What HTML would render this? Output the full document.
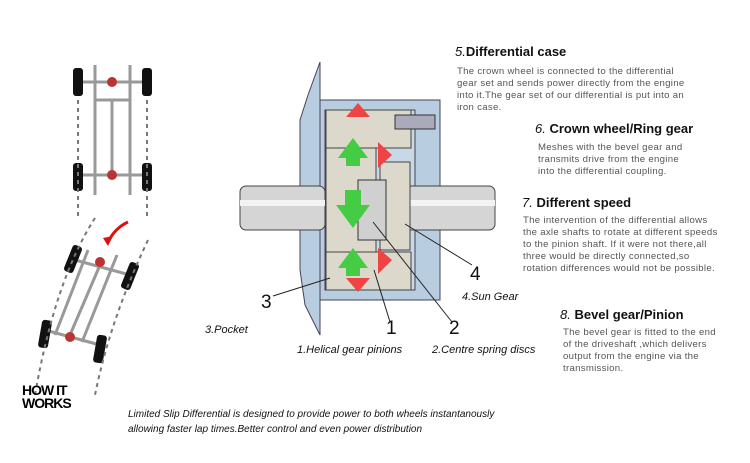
<!DOCTYPE html>
<html><head><style>
body{margin:0;width:750px;height:463px;background:#fff;position:relative;overflow:hidden;font-family:"Liberation Sans",sans-serif}
.h{position:absolute;font-weight:bold;font-size:13px;color:#111;white-space:nowrap}
.h i{font-weight:normal}
.b{position:absolute;font-size:9.6px;line-height:12px;color:#555;white-space:nowrap;letter-spacing:0.3px}
.l{position:absolute;font-style:italic;font-size:11px;color:#111;white-space:nowrap}
.n{position:absolute;font-size:19px;color:#111}
</style></head><body>
<svg width="750" height="463" style="position:absolute;left:0;top:0">
<!-- case -->
<path d="M320 62 L320 335 L305 305 L300 270 L300 120 L308 95 Z" fill="#b9cde0" stroke="#445" stroke-width="1"/>
<rect x="320" y="100" width="120" height="200" fill="#b9cde0" stroke="#445"/>
<rect x="325" y="110" width="90" height="180" fill="#c9d8e6" stroke="#445"/>
<!-- shafts -->
<rect x="240" y="186" width="85" height="44" rx="6" fill="#d5d5d5" stroke="#444"/>
<rect x="240" y="200" width="85" height="6" fill="#f3f3f3"/>
<rect x="405" y="186" width="90" height="44" rx="6" fill="#d5d5d5" stroke="#444"/>
<rect x="405" y="200" width="90" height="6" fill="#f3f3f3"/>
<!-- gears -->
<rect x="326" y="130" width="50" height="140" fill="#ddd8cc" stroke="#444"/>
<rect x="326" y="252" width="85" height="38" fill="#ddd8cc" stroke="#444"/>
<rect x="326" y="110" width="85" height="38" fill="#ddd8cc" stroke="#444"/>
<rect x="380" y="162" width="30" height="88" fill="#ddd8cc" stroke="#444"/>
<rect x="358" y="180" width="28" height="60" fill="#d0d0d0" stroke="#333"/>
<rect x="395" y="115" width="40" height="14" fill="#aab" stroke="#333"/>
<!-- arrows -->
<path d="M346 117 L358 103 L370 117 Z M346 278 L358 292 L370 278 Z" fill="#e44"/>
<path d="M338 158 L353 138 L368 158 L360 158 L360 166 L346 166 L346 158Z" fill="#4c4"/>
<path d="M336 205 L353 228 L370 205 L361 205 L361 190 L345 190 L345 205Z" fill="#4c4"/>
<path d="M338 268 L353 248 L368 268 L360 268 L360 276 L346 276 L346 268Z" fill="#4c4"/>
<path d="M378 142 L392 155 L378 168Z M378 248 L392 260 L378 274Z" fill="#e44"/>
<!-- leaders -->
<g stroke="#222" stroke-width="1" fill="none">
<line x1="273" y1="296" x2="330" y2="278"/>
<line x1="390" y1="322" x2="374" y2="270"/>
<line x1="452" y1="322" x2="373" y2="222"/>
<line x1="472" y1="265" x2="405" y2="224"/>
</g>
<!-- cars -->
<g stroke="#999" stroke-width="3" fill="none">
<line x1="95" y1="65" x2="95" y2="195"/><line x1="130" y1="65" x2="130" y2="195"/>
<line x1="80" y1="82" x2="145" y2="82"/><line x1="80" y1="175" x2="145" y2="175"/>
<line x1="95" y1="100" x2="130" y2="100"/><line x1="112" y1="100" x2="112" y2="175"/>
<line x1="88" y1="250" x2="55" y2="335"/><line x1="117" y1="255" x2="82" y2="342"/>
<line x1="75" y1="260" x2="130" y2="275"/><line x1="45" y1="330" x2="100" y2="345"/>
<line x1="100" y1="265" x2="70" y2="335"/>
</g>
<g fill="#111">
<rect x="73" y="68" width="10" height="28" rx="3"/><rect x="142" y="68" width="10" height="28" rx="3"/>
<rect x="73" y="163" width="10" height="28" rx="3"/><rect x="142" y="163" width="10" height="28" rx="3"/>
<rect x="68" y="245" width="10" height="28" rx="3" transform="rotate(22 73 259)"/>
<rect x="125" y="262" width="10" height="28" rx="3" transform="rotate(22 130 276)"/>
<rect x="40" y="320" width="10" height="28" rx="3" transform="rotate(10 45 334)"/>
<rect x="95" y="335" width="10" height="28" rx="3" transform="rotate(10 100 349)"/>
</g>
<g fill="#b33"><circle cx="112" cy="82" r="5"/><circle cx="112" cy="175" r="5"/><circle cx="100" cy="262" r="5"/><circle cx="70" cy="337" r="5"/></g>
<g stroke="#777" stroke-width="2" stroke-dasharray="4 4" fill="none">
<line x1="78" y1="100" x2="78" y2="220"/><line x1="147" y1="100" x2="147" y2="220"/>
<path d="M95 218 Q55 280 35 395"/><path d="M148 240 Q110 320 95 395"/>
</g>
<path d="M128 222 Q115 228 108 242" stroke="#d11" stroke-width="3" fill="none"/>
<path d="M103 238 L108 246 L113 236Z" fill="#d11"/>
</svg>
<div style="position:absolute;left:22px;top:384px;font-weight:900;font-size:14px;line-height:13px;letter-spacing:-1px;color:#000">HOW IT<br>WORKS</div>

<div class="h" style="left:455px;top:44px"><i>5.</i>Differential case</div>
<div class="b" style="left:457px;top:66px">The crown wheel is connected to the differential<br>gear set and sends power directly from the engine<br>into it.The gear set of our differential is put into an<br>iron case.</div>
<div class="h" style="left:535px;top:121px"><i>6.</i> Crown wheel/Ring gear</div>
<div class="b" style="left:538px;top:142px">Meshes with the bevel gear and<br>transmits drive from the engine<br>into the differential coupling.</div>
<div class="h" style="left:522px;top:195px"><i>7.</i> Different speed</div>
<div class="b" style="left:523px;top:215px">The intervention of the differential allows<br>the axle shafts to rotate at different speeds<br>to the pinion shaft. If it were not there,all<br>three would be directly connected,so<br>rotation differences would not be possible.</div>
<div class="h" style="left:560px;top:307px"><i>8.</i> Bevel gear/Pinion</div>
<div class="b" style="left:563px;top:327px">The bevel gear is fitted to the end<br>of the driveshaft ,which delivers<br>output from the engine via the<br>transmission.</div>

<div class="n" style="left:261px;top:292px">3</div>
<div class="n" style="left:386px;top:318px">1</div>
<div class="n" style="left:449px;top:318px">2</div>
<div class="n" style="left:470px;top:264px">4</div>
<div class="l" style="left:205px;top:324px">3.Pocket</div>
<div class="l" style="left:297px;top:344px">1.Helical gear pinions</div>
<div class="l" style="left:432px;top:344px">2.Centre spring discs</div>
<div class="l" style="left:462px;top:291px">4.Sun Gear</div>
<div class="l" style="left:128px;top:407px;font-size:10px;line-height:15px">Limited Slip Differential is designed to provide power to both wheels instantanously<br>allowing faster lap times.Better control and even power distribution</div>
</body></html>
